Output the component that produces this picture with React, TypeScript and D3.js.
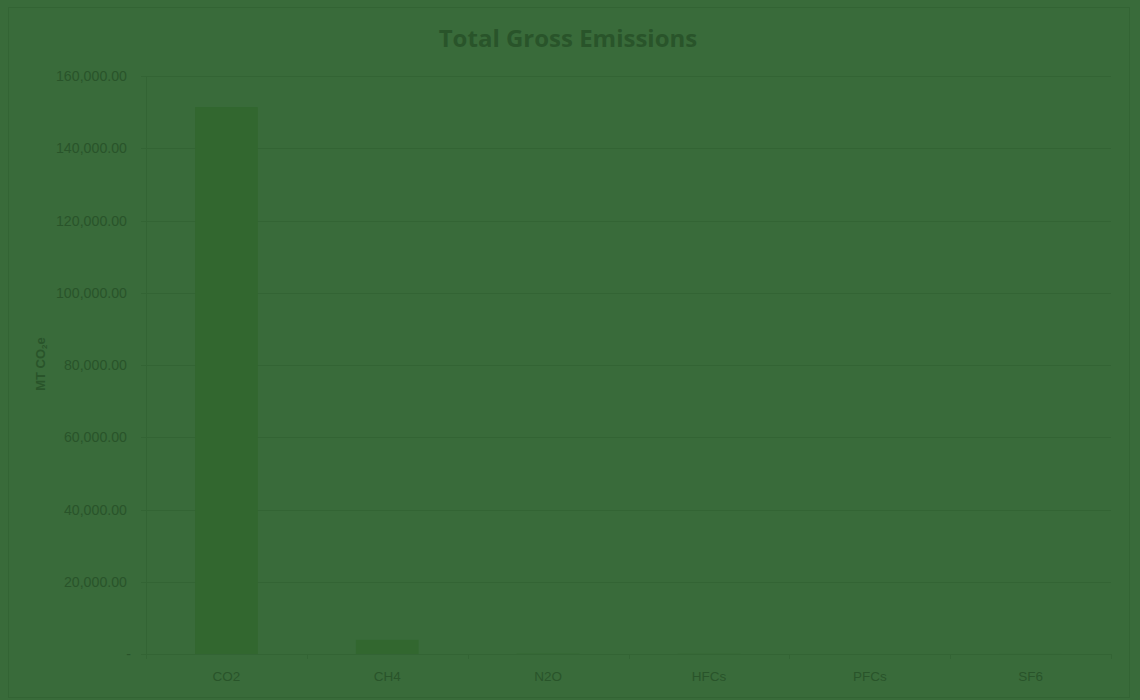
import React from "react";
import * as d3 from "d3";

const categories = ["CO2", "CH4", "N2O", "HFCs", "PFCs", "SF6"];
const values = [151400, 3900, 80, 40, 0, 10];
const yTicks = [0, 20000, 40000, 60000, 80000, 100000, 120000, 140000, 160000];

const W = 1140, H = 700;
const M = { left: 146, right: 1111, top: 76, bottom: 654 };
const BG = "#396b3a";
const GRID = "#336434";
const BAR = "#32672f";
const TEXT = "#29542a";

export default function App() {
  const x = d3.scaleBand<string>().domain(categories).range([M.left, M.right]).paddingInner(0.61).paddingOuter(0.305);
  const xb = d3.scaleBand<string>().domain(categories).range([M.left, M.right]).padding(0);
  const y = d3.scaleLinear().domain([0, 160000]).range([M.bottom, M.top]);
  const fmt = d3.format(",.2f");
  return (
    <svg width={W} height={H} style={{ position: "absolute", left: 0, top: 0, display: "block" }}>
      <rect x={0} y={0} width={W} height={H} fill={BG} />
      <rect x={8.5} y={7.5} width={1121} height={690} fill="none" stroke={GRID} strokeWidth={1} />
      <text x={568} y={47} textAnchor="middle" fontFamily="'Open Sans', sans-serif" fontWeight="bold" fontSize={24} fill={TEXT}>Total Gross Emissions</text>
      {yTicks.map((t) => (
        <g key={t}>
          <line x1={141} x2={M.right} y1={Math.round(y(t)) + 0.5} y2={Math.round(y(t)) + 0.5} stroke={GRID} strokeWidth={1} />
          <text x={t === 0 ? 131 : 127} y={y(t) + 5} textAnchor="end" fontFamily="'Liberation Sans', sans-serif" fontSize={14.2} fill={TEXT}>{t === 0 ? "-" : fmt(t)}</text>
        </g>
      ))}
      <line x1={M.left + 0.5} x2={M.left + 0.5} y1={M.top} y2={M.bottom + 5} stroke={GRID} strokeWidth={1} />
      {categories.map((c) => (
        <line key={"t" + c} x1={Math.round((xb(c) as number) + xb.bandwidth()) + 0.5} x2={Math.round((xb(c) as number) + xb.bandwidth()) + 0.5} y1={M.bottom} y2={M.bottom + 5} stroke={GRID} strokeWidth={1} />
      ))}
      {categories.map((c, i) => (
        <rect key={c} x={x(c)} y={y(values[i])} width={x.bandwidth()} height={M.bottom - y(values[i])} fill={BAR} />
      ))}
      {categories.map((c) => (
        <text key={"l" + c} x={(xb(c) as number) + xb.bandwidth() / 2} y={681} textAnchor="middle" fontFamily="'Liberation Sans', sans-serif" fontSize={13.5} fill={TEXT}>{c}</text>
      ))}
      <text transform="translate(45,364) rotate(-90)" textAnchor="middle" fontFamily="'Liberation Sans', sans-serif" fontSize={13} fontWeight="bold" fill={TEXT}>
        MT CO<tspan fontSize={8} dy={2}>2</tspan><tspan dy={-2}>e</tspan>
      </text>
    </svg>
  );
}
